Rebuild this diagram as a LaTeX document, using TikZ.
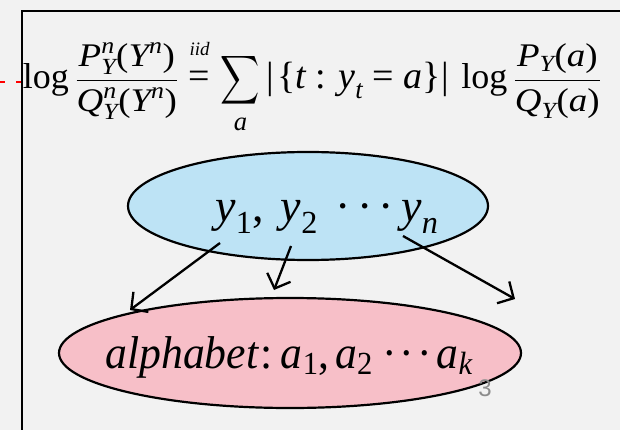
\documentclass[tikz,border=0pt]{standalone}
\usepackage{amsmath}
\usepackage{graphicx}
\usepackage{fontspec}
\setmainfont{Liberation Serif}
\setsansfont{Liberation Sans}
\DeclareFontShape{OMS}{cmsy}{m}{n}{<->cmsy10}{}
\DeclareFontShape{OMX}{cmex}{m}{n}{<->cmex10}{}
\DeclareFontShape{OML}{cmm}{m}{it}{<->cmmi10}{}
\DeclareFontShape{OT1}{cmr}{m}{n}{<->cmr10}{}
\usetikzlibrary{shapes.geometric,arrows.meta}
\newcommand\mi[1]{\text{\itshape #1}}
\newcommand\mr[1]{\text{#1}}
\newcommand\mydots[1]{\mr{·\kern#1·\kern#1·}}
\newcommand\mylog{\mathop{\text{\fontsize{36}{40}\selectfont log}}\nolimits}
\newcommand\myfrac[2]{\mathinner{\text{\scalebox{1.12}[1]{\fontsize{33}{36}\selectfont$\displaystyle\frac{#1}{#2}$}}}}
\newcommand\mysum{\mathop{\text{\scalebox{0.8}[1]{\fontsize{34}{36}\selectfont$\displaystyle\sum$}}}\limits}
\definecolor{bgc}{RGB}{242,242,242}
\definecolor{bluefill}{RGB}{189,227,245}
\definecolor{pinkfill}{RGB}{247,191,200}
\definecolor{pagegray}{RGB}{140,140,140}
\begin{document}
\begin{tikzpicture}[x=1pt,y=-1pt,
  ell/.style={ellipse, draw=black, line width=2.2pt, inner sep=0pt},
  conn/.style={draw=black, line width=2.3pt, -{Straight Barb[length=12pt,width=25pt,line width=2.3pt]}},
  bigtext/.style={anchor=base, inner sep=0pt, font=\fontsize{46}{50}\selectfont}]
\useasboundingbox (0,0) rectangle (620,430);
\clip (0,0) rectangle (620,430);
\fill[bgc] (0,0) rectangle (620,430);
\draw[line width=2.5pt] (22,440) -- (22,11) -- (640,11);
\draw[red, line width=2pt, dash pattern=on 5pt off 11pt] (0,82) -- (21,82);
% formula
\node[anchor=base, inner sep=0pt, font=\fontsize{38}{42}\selectfont] (formula) at (312,89)
 {$\mylog\myfrac{\mi{P}^{\mi{n}}_{\mi{Y}}\mr{(}\mi{Y}^{\mi{n}}\mr{)}}{\mi{Q}^{\mi{n}}_{\mi{Y}}\mr{(}\mi{Y}^{\mi{n}}\mr{)}}
 \mathrel{\overset{\text{\raisebox{9pt}{\fontsize{19}{20}\selectfont\itshape iid}}}{\mr{=}}}
 \mysum_{\mi{a}}\mr{|\kern3pt\{}\mi{t}\mr{ : }\mi{y}_{\mi{t}}\mr{ = }\mi{a}\mr{\}|}\,\mylog\myfrac{\mi{P}_{\mi{Y}}\mr{(}\mi{a}\mr{)}}{\mi{Q}_{\mi{Y}}\mr{(}\mi{a}\mr{)}}$};
% ellipses
\node[ell, fill=bluefill, minimum width=360pt, minimum height=108pt] (top) at (308,206) {};
\node[ell, fill=pinkfill, minimum width=462pt, minimum height=110pt] (bot) at (290,353) {};
\node[bigtext] (ytext) at (327,222) {$\mi{y}_{\mr{1}}\mr{,\kern17pt}\mi{y}_{\mr{2}}\mkern7mu\mydots{6pt}\mkern3mu\mi{y}_{\mi{n}}$};
\node[bigtext] (atext) at (289,368) {\scalebox{0.95}[1]{$\mi{alphabet}\mr{\kern2pt:\kern9pt}\mi{a}_{\mr{1}}\mr{,\kern6pt}\mi{a}_{\mr{2}}\mkern4mu\mydots{3pt}\mkern2mu\mi{a}_{\mi{k}}$}};
\node[font=\sffamily\fontsize{24}{24}\selectfont, text=pagegray, inner sep=0pt] (pnum) at (485,388) {3};
% connectors
\coordinate (s1) at (220,243);
\coordinate (s2) at (291,246);
\coordinate (s3) at (403,236);
\coordinate (e1) at (130,310);
\coordinate (e2) at (274,290);
\coordinate (e3) at (515,299);
\draw[conn] (s1) -- (e1);
\draw[conn] (s2) -- (e2);
\draw[conn] (s3) -- (e3);
\end{tikzpicture}
\end{document}
